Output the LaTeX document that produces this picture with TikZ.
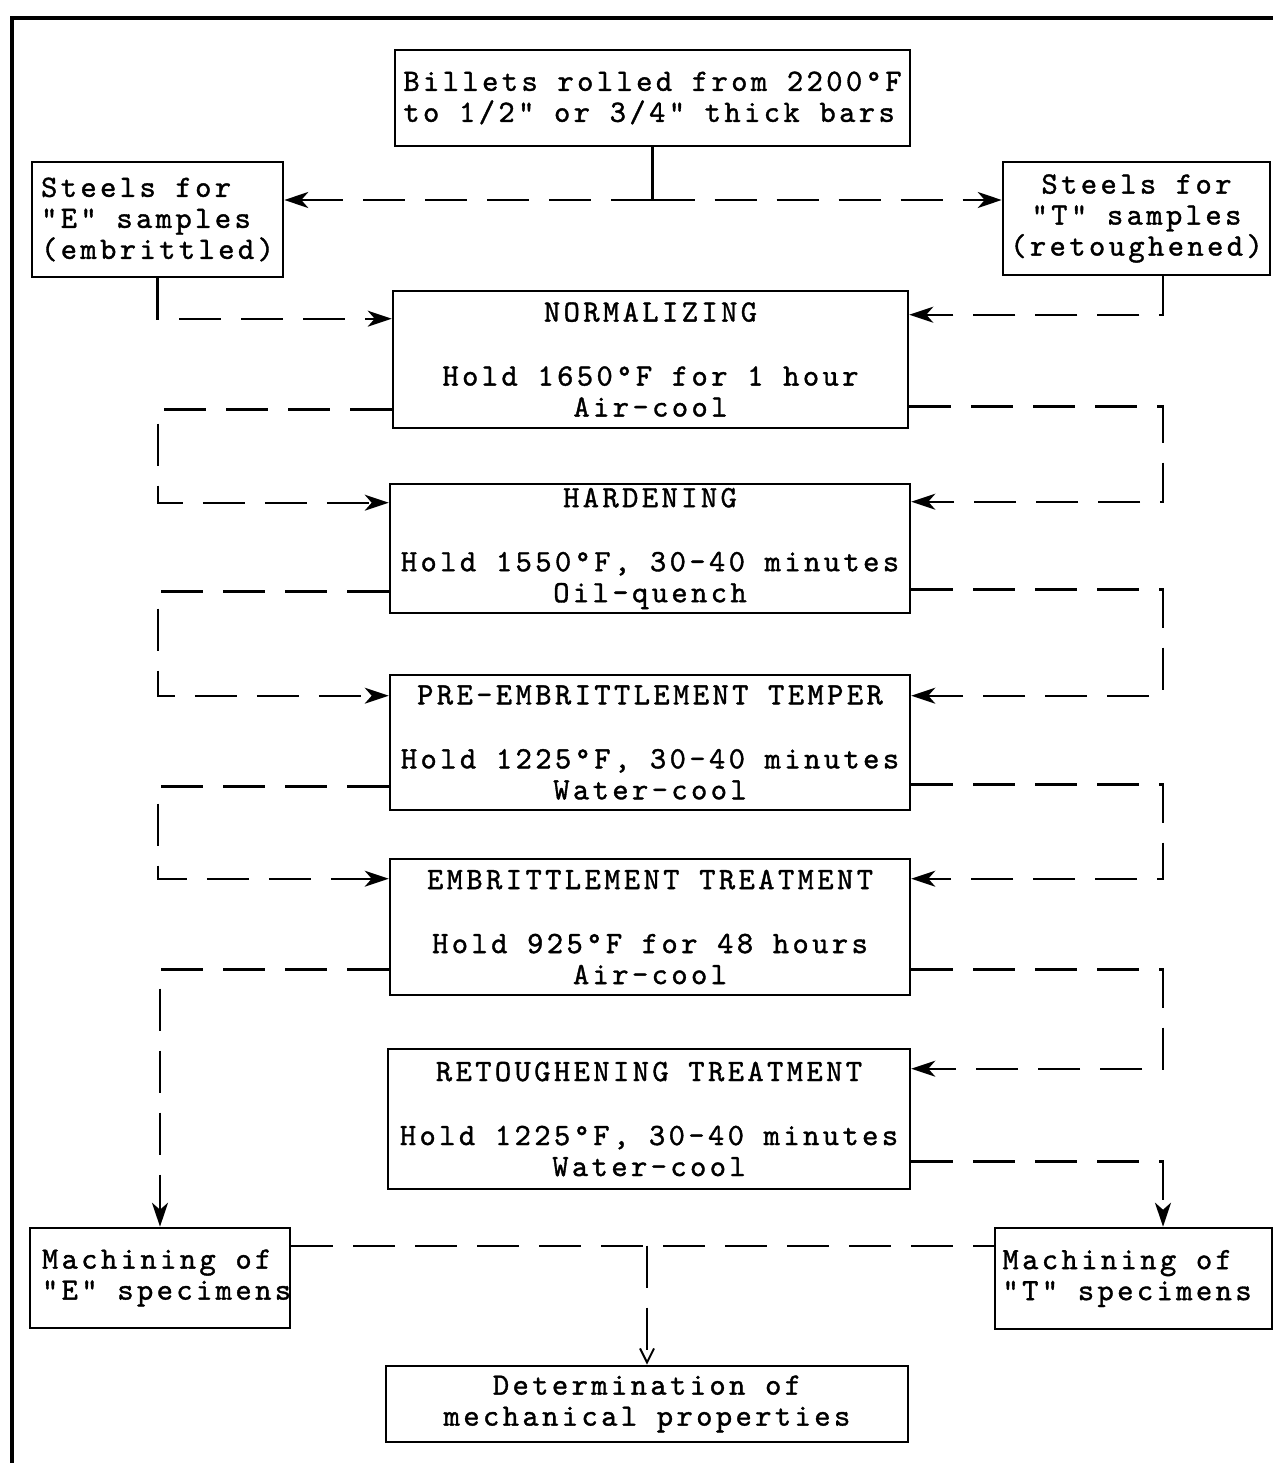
\documentclass[tikz,border=0pt]{standalone}
\usepackage{fontspec}
\newfontfamily\tw{lmmono10-regular.otf}[LetterSpace=11,FakeBold=1.2]
\newcommand\twfont{\tw\fontsize{31}{31}\selectfont\fontdimen2\font=19.7pt\fontdimen3\font=0pt\fontdimen4\font=0pt\relax}
\usetikzlibrary{arrows.meta}
\begin{document}
\begin{tikzpicture}[x=1pt,y=-1pt,
  box/.style={draw, line width=2.6pt, inner sep=0pt, font=\twfont, align=center},
  conn/.style={line width=2.4pt, dash pattern=on 42pt off 20pt},
  solidc/.style={line width=2.4pt},
  arr/.style={conn, -{Stealth[length=24pt,width=16pt,inset=7pt]}},
  arrv/.style={conn, -{Straight Barb[length=14pt,width=14pt,line width=2pt]}}]
\useasboundingbox (0,0) rectangle (1273,1463);
% frame
\draw[line width=3.5pt] (1273,18) -- (12,18) -- (12,1463);
% boxes
\node[box, minimum width=515pt, minimum height=96pt, align=left] (billets) at (652.5,98)
  {Billets rolled from 2200°F\\to 1/2" or 3/4" thick bars};
\node[box, minimum width=251pt, minimum height=115pt, align=left] (steelE) at (157.5,219.5)
  {Steels for\\"E" samples\\(embrittled)};
\node[box, minimum width=267pt, minimum height=113pt] (steelT) at (1136.5,218.5)
  {Steels for\\"T" samples\\(retoughened)};
\node[box, minimum width=515pt, minimum height=137pt] (norm) at (650.5,359.5)
  {NORMALIZING\\[33pt]Hold 1650°F for 1 hour\\Air-cool};
\node[box, minimum width=520pt, minimum height=129pt] (hard) at (650,548.5)
  {HARDENING\\[33pt]Hold 1550°F, 30-40 minutes\\Oil-quench};
\node[box, minimum width=520pt, minimum height=135pt] (pre) at (650,742.5)
  {PRE-EMBRITTLEMENT TEMPER\\[33pt]Hold 1225°F, 30-40 minutes\\Water-cool};
\node[box, minimum width=520pt, minimum height=136pt] (embr) at (650,927)
  {EMBRITTLEMENT TREATMENT\\[33pt]Hold 925°F for 48 hours\\Air-cool};
\node[box, minimum width=522pt, minimum height=140pt] (ret) at (649,1119)
  {RETOUGHENING TREATMENT\\[33pt]Hold 1225°F, 30-40 minutes\\Water-cool};
\node[box, minimum width=260pt, minimum height=100pt, align=left] (machE) at (160,1278)
  {Machining of\\\makebox[236pt][l]{"E" specimens}};
\node[box, minimum width=277pt, minimum height=101pt, align=left] (machT) at (1133.5,1278.5)
  {Machining of\\\makebox[262pt][l]{"T" specimens}};
\node[box, minimum width=522pt, minimum height=76pt] (det) at (647,1404)
  {Determination of\\mechanical properties};
% rails
\coordinate (L) at (158,0);
\coordinate (R) at (1163,0);
\coordinate (y200) at (0,200);
\coordinate (J) at (billets.south |- y200);
% top split
\draw[solidc] (billets.south) -- (J);
\draw[arr] (J) -- (J -| steelE.east);
\draw[arr] (J) -- (J -| steelT.west);
% into normalizing
\draw[arr] (steelE.south) |- ([yshift=-29pt]norm.north west);
\draw[arr] (R |- steelT.south) |- ([yshift=-25pt]norm.north east);
% left loops
\coordinate (hL) at ([yshift=-20pt]hard.north west);
\coordinate (pL) at ([yshift=-22pt]pre.north west);
\coordinate (eL) at ([yshift=-21pt]embr.north west);
\draw[arr] ([yshift=20pt]norm.south west) -| (L |- hL) -- (hL);
\draw[arr] ([yshift=23pt]hard.south west) -| (L |- pL) -- (pL);
\draw[arr] ([yshift=25pt]pre.south west) -| (L |- eL) -- (eL);
\draw[arr] ([yshift=27pt]embr.south west) -| (machE.north);
% right loops
\coordinate (hR) at ([yshift=-19pt]hard.north east);
\coordinate (pR) at ([yshift=-22pt]pre.north east);
\coordinate (eR) at ([yshift=-21pt]embr.north east);
\coordinate (rR) at ([yshift=-21pt]ret.north east);
\draw[arr] ([yshift=23pt]norm.south east) -| (R |- hR) -- (hR);
\draw[arr] ([yshift=25pt]hard.south east) -| (R |- pR) -- (pR);
\draw[arr] ([yshift=27pt]pre.south east) -| (R |- eR) -- (eR);
\draw[arr] ([yshift=27pt]embr.south east) -| (R |- rR) -- (rR);
\draw[arr] ([yshift=29pt]ret.south east) -| (R |- machT.north);
% bottom
\coordinate (bL) at ([yshift=-19pt]machE.north east);
\draw[conn] (bL) -- (bL -| machT.west);
\draw[arrv] (bL -| det.north) -- (det.north);
\end{tikzpicture}
\end{document}
